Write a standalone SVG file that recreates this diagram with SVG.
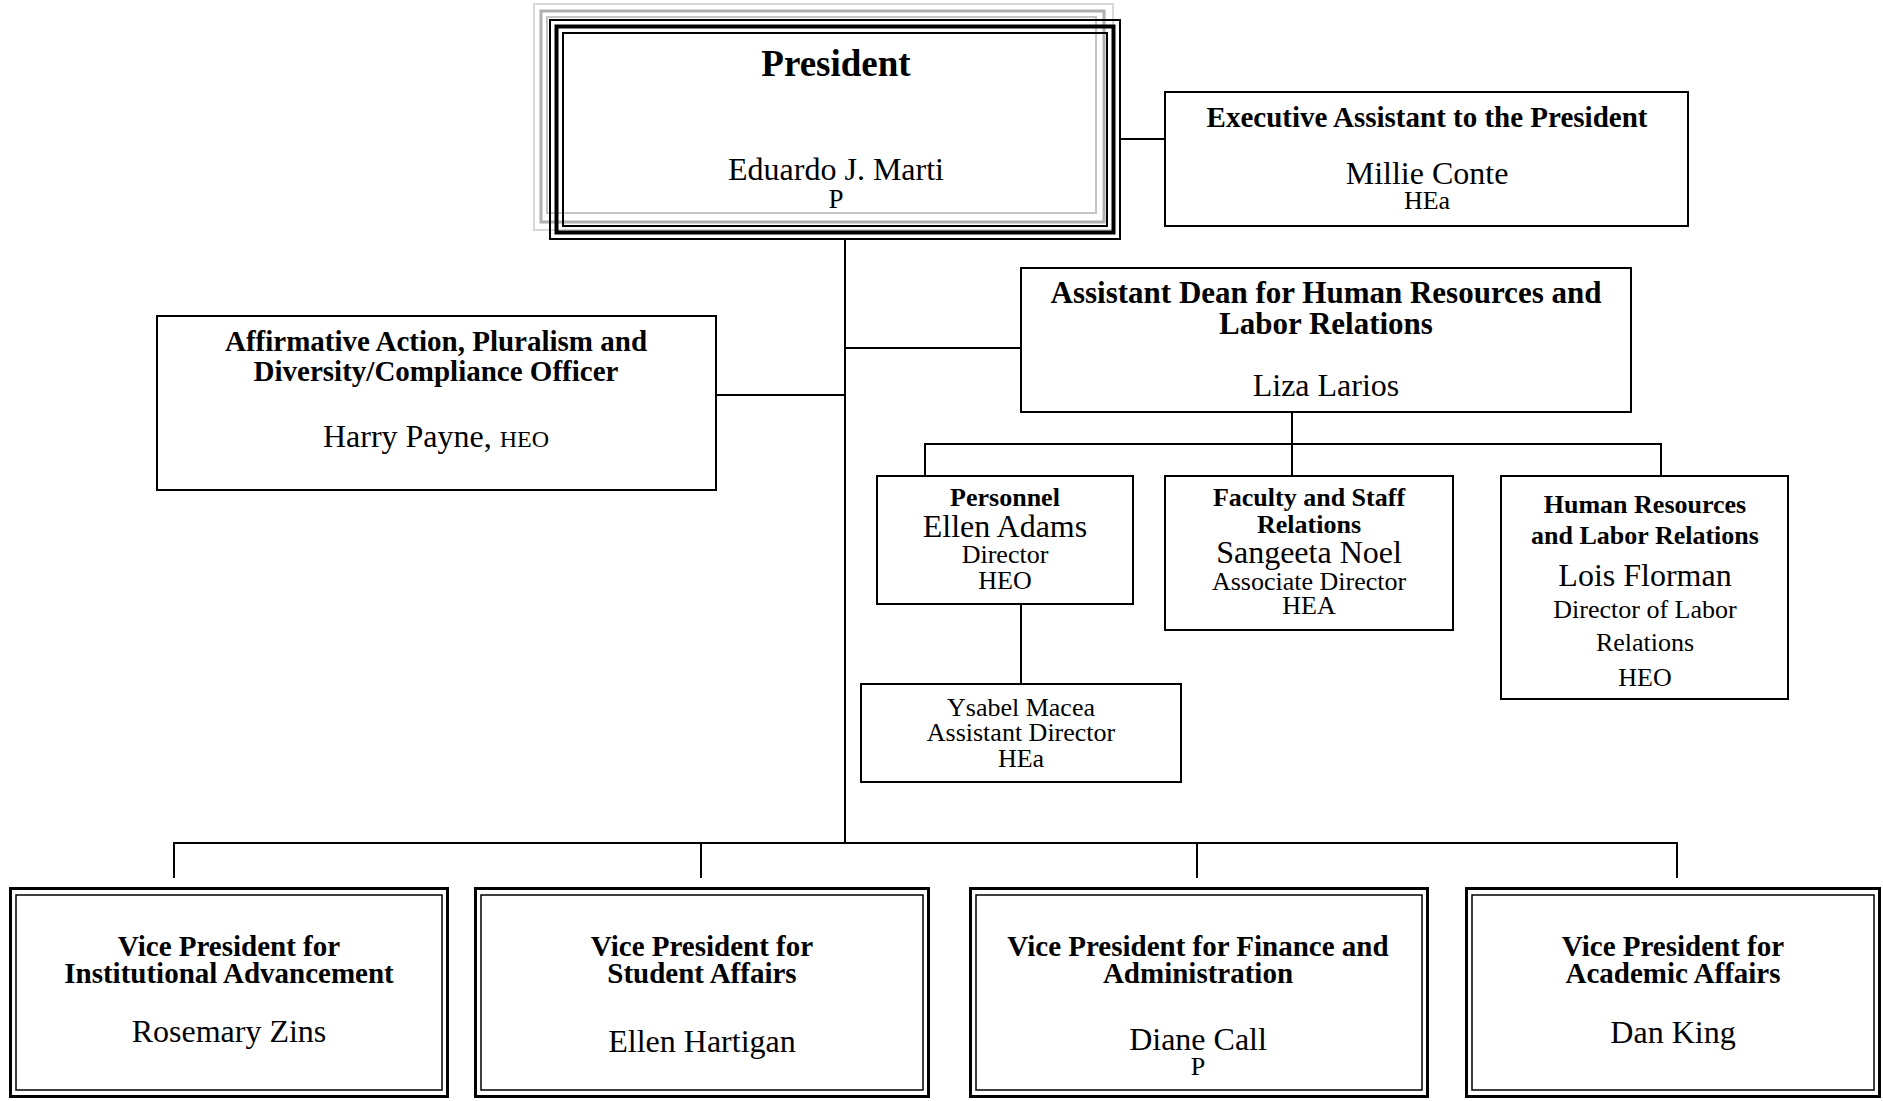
<svg xmlns="http://www.w3.org/2000/svg" width="1883" height="1101" viewBox="0 0 1883 1101">
<style>
text{font-family:"Liberation Serif","Times New Roman",serif;fill:#000;text-anchor:middle}
.b{font-weight:bold;font-size:29px}
.bm{font-weight:bold;font-size:26px}
.n{font-size:32px}
.s{font-size:26px}
.box{fill:#fff;stroke:#000;stroke-width:2}
.c{stroke:#000;stroke-width:2;fill:none}
.o{fill:#fff;stroke:#000;stroke-width:3}
.i{fill:none;stroke:#000;stroke-width:1.5}
</style>
<rect width="1883" height="1101" fill="#fff"/>
<g id="connectors">
<line class="c" x1="845" y1="239" x2="845" y2="844"/>
<line class="c" x1="1120" y1="139" x2="1165" y2="139"/>
<line class="c" x1="845" y1="348" x2="1021" y2="348"/>
<line class="c" x1="716" y1="395" x2="845" y2="395"/>
<line class="c" x1="1292" y1="412" x2="1292" y2="444"/>
<polyline class="c" points="925,476 925,444 1661,444 1661,476"/>
<line class="c" x1="1292" y1="444" x2="1292" y2="476"/>
<line class="c" x1="1021" y1="604" x2="1021" y2="684"/>
<polyline class="c" points="174,878 174,843 1677,843 1677,878"/>
<line class="c" x1="701" y1="843" x2="701" y2="878"/>
<line class="c" x1="1197" y1="843" x2="1197" y2="878"/>
</g>
<g id="president">
<rect x="534" y="4" width="579" height="226" fill="none" stroke="#d8d8d8" stroke-width="2"/>
<rect x="541" y="11" width="563" height="211" fill="none" stroke="#b0b0b0" stroke-width="3"/>
<rect x="547" y="17" width="549" height="196" fill="none" stroke="#c4c4c4" stroke-width="2"/>
<rect x="550" y="20" width="570" height="219" fill="none" stroke="#000" stroke-width="2"/>
<rect x="556.5" y="26.5" width="557" height="206" fill="none" stroke="#000" stroke-width="4"/>
<rect x="563" y="33" width="544" height="193" fill="none" stroke="#000" stroke-width="2"/>
<text x="836" y="76" style="font-weight:bold;font-size:37px">President</text>
<text x="836" y="180" class="n">Eduardo J. Marti</text>
<text x="836" y="208" style="font-size:27px">P</text>
</g>
<g id="exec-assistant">
<rect class="box" x="1165" y="92" width="523" height="134"/>
<text x="1427" y="127" class="b">Executive Assistant to the President</text>
<text x="1427" y="184" class="n">Millie Conte</text>
<text x="1427" y="209" class="s">HEa</text>
</g>
<g id="affirmative-action">
<rect class="box" x="157" y="316" width="559" height="174"/>
<text x="436" y="351" class="b">Affirmative Action, Pluralism and</text>
<text x="436" y="381" class="b">Diversity/Compliance Officer</text>
<text x="436" y="447" class="n">Harry Payne, <tspan style="font-size:24px">HEO</tspan></text>
</g>
<g id="assistant-dean">
<rect class="box" x="1021" y="268" width="610" height="144"/>
<text x="1326" y="303" style="font-weight:bold;font-size:31px">Assistant Dean for Human Resources and</text>
<text x="1326" y="334" style="font-weight:bold;font-size:31px">Labor Relations</text>
<text x="1326" y="396" class="n">Liza Larios</text>
</g>
<g id="personnel">
<rect class="box" x="877" y="476" width="256" height="128"/>
<text x="1005" y="506" class="bm">Personnel</text>
<text x="1005" y="537" class="n">Ellen Adams</text>
<text x="1005" y="563" class="s">Director</text>
<text x="1005" y="589" class="s">HEO</text>
</g>
<g id="faculty-staff">
<rect class="box" x="1165" y="476" width="288" height="154"/>
<text x="1309" y="506" class="bm">Faculty and Staff</text>
<text x="1309" y="533" class="bm">Relations</text>
<text x="1309" y="563" class="n">Sangeeta Noel</text>
<text x="1309" y="590" class="s">Associate Director</text>
<text x="1309" y="614" class="s">HEA</text>
</g>
<g id="hr-labor">
<rect class="box" x="1501" y="476" width="287" height="223"/>
<text x="1645" y="513" class="bm">Human Resources</text>
<text x="1645" y="544" class="bm">and Labor Relations</text>
<text x="1645" y="586" class="n">Lois Florman</text>
<text x="1645" y="618" class="s">Director of Labor</text>
<text x="1645" y="651" class="s">Relations</text>
<text x="1645" y="686" class="s">HEO</text>
</g>
<g id="ysabel">
<rect class="box" x="861" y="684" width="320" height="98"/>
<text x="1021" y="716" class="s">Ysabel Macea</text>
<text x="1021" y="741" class="s">Assistant Director</text>
<text x="1021" y="767" class="s">HEa</text>
</g>
<g id="vp-institutional">
<rect class="o" x="10.5" y="888.5" width="437" height="208"/>
<rect class="i" x="16" y="895" width="426" height="195"/>
<text x="229" y="956" class="b">Vice President for</text>
<text x="229" y="983" class="b">Institutional Advancement</text>
<text x="229" y="1042" class="n">Rosemary Zins</text>
</g>
<g id="vp-student">
<rect class="o" x="475.5" y="888.5" width="453" height="208"/>
<rect class="i" x="481" y="895" width="442" height="195"/>
<text x="702" y="956" class="b">Vice President for</text>
<text x="702" y="983" class="b">Student Affairs</text>
<text x="702" y="1052" class="n">Ellen Hartigan</text>
</g>
<g id="vp-finance">
<rect class="o" x="970.5" y="888.5" width="457" height="208"/>
<rect class="i" x="976" y="895" width="446" height="195"/>
<text x="1198" y="956" class="b">Vice President for Finance and</text>
<text x="1198" y="983" class="b">Administration</text>
<text x="1198" y="1050" class="n">Diane Call</text>
<text x="1198" y="1075" class="s">P</text>
</g>
<g id="vp-academic">
<rect class="o" x="1466.5" y="888.5" width="413" height="208"/>
<rect class="i" x="1472" y="895" width="402" height="195"/>
<text x="1673" y="956" class="b">Vice President for</text>
<text x="1673" y="983" class="b">Academic Affairs</text>
<text x="1673" y="1043" class="n">Dan King</text>
</g>
</svg>
